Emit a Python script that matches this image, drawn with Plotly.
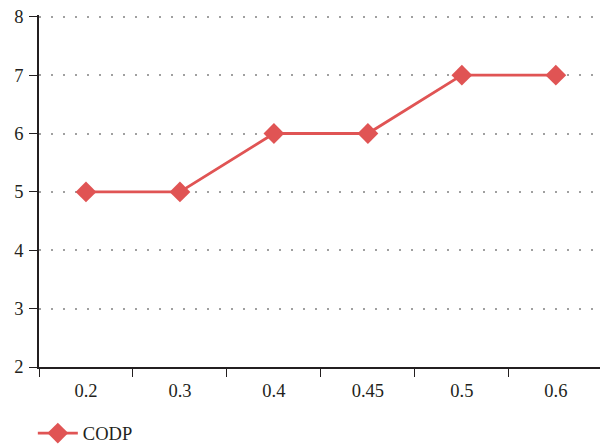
import plotly.graph_objects as go

categories = ["0.2", "0.3", "0.4", "0.45", "0.5", "0.6"]
codp = [5, 5, 6, 6, 7, 7]
y_ticks = [2, 3, 4, 5, 6, 7, 8]

color = "#e05454"
font = dict(family="Liberation Serif", size=18.5, color="#231f20")

fig = go.Figure()
fig.add_trace(go.Scatter(
    x=categories, y=codp, mode="lines+markers", name="CODP",
    line=dict(color=color, width=2.8),
    marker=dict(symbol="diamond", size=16, color=color),
))
fig.update_layout(
    width=600, height=447,
    margin=dict(l=39, r=0, t=15, b=80, autoexpand=False),
    paper_bgcolor="white", plot_bgcolor="white",
    font=font,
    showlegend=True,
    legend=dict(orientation="h", x=-0.011, y=-0.135, xanchor="left", yanchor="top",
                font=font, bgcolor="rgba(0,0,0,0)", itemwidth=40),
    xaxis=dict(type="category", range=[-0.5, 5.47], showline=True, linecolor="#231f20",
               linewidth=1.5, ticks="outside", tickson="boundaries", ticklen=8,
               tickcolor="#231f20", showgrid=False, zeroline=False, ticklabelstandoff=6,
               tickfont=font, automargin=False),
    yaxis=dict(range=[2, 8.03], tickvals=y_ticks, showline=True, linecolor="#231f20",
               linewidth=1.5, ticks="outside", ticklen=8, tickcolor="#231f20",
               showgrid=True, gridcolor="#a0a0a0", gridwidth=1.5, griddash="2px,10px",
               zeroline=False, ticklabelstandoff=2, tickfont=font, automargin=False),
)
fig.write_html("out.html", config={"displayModeBar": False},
               post_script="document.body.style.margin='0';document.body.style.overflow='hidden';")
